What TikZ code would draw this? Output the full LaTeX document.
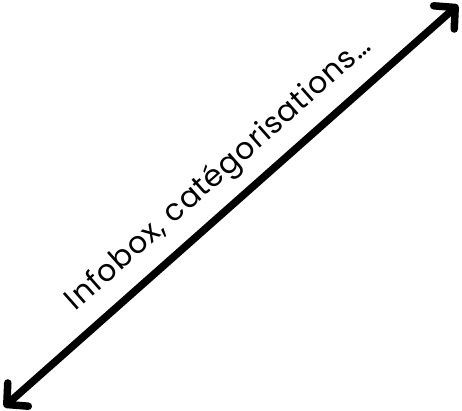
\documentclass[tikz,border=0pt]{standalone}
\usepackage{fontspec}
\setmainfont{Poppins}[LetterSpace=3]
\usetikzlibrary{arrows.meta}
\tikzset{
  bigarrow/.style={line width=7.5pt, {Straight Barb[round,length=15pt,width=31pt]}-{Straight Barb[round,length=15pt,width=31pt]}},
  label/.style={font=\fontsize{30}{34}\selectfont, sloped, anchor=base, yshift=24pt, inner sep=0pt}
}
\begin{document}
\begin{tikzpicture}[x=1pt,y=1pt]
\useasboundingbox (0,0) rectangle (462,411);
\coordinate (a) at (4,4);
\coordinate (b) at (458,406);
\draw[bigarrow] (a) -- (b) node[label, pos=0.52] {Infobox, catégorisations…};
\end{tikzpicture}
\end{document}
